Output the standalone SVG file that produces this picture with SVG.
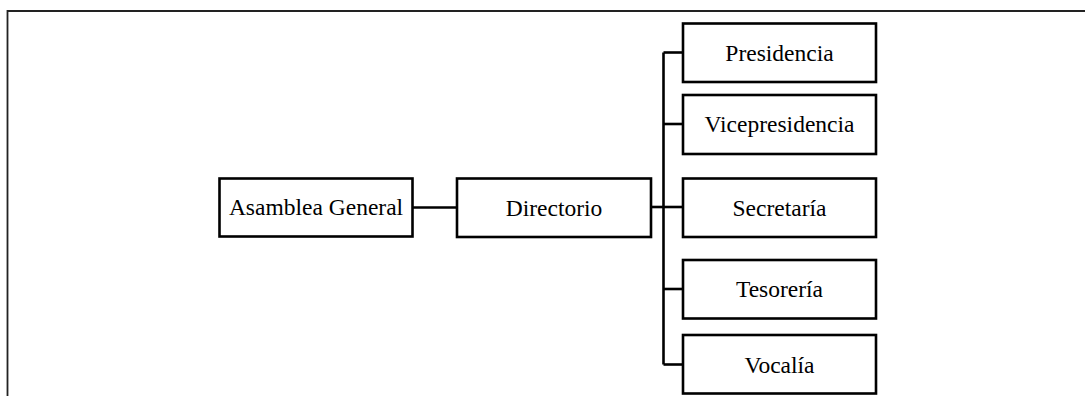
<svg xmlns="http://www.w3.org/2000/svg" width="1085" height="396" viewBox="0 0 1085 396">
<style>
.box{fill:#fff;stroke:#000;stroke-width:2.6}
.lbl{font-family:"Liberation Serif","Times New Roman",serif;font-size:23.5px;fill:#000;text-anchor:middle}
.con{fill:none;stroke:#000;stroke-width:2.6}
.frame{fill:none;stroke:#222;stroke-width:1.8}
</style>
<path class="frame" d="M7.5 396 V11 H1085"/>
<g id="connectors">
<path class="con" d="M412 207.5 H457"/>
<path class="con" d="M651 207 H683"/>
<path class="con" d="M663.5 52.5 V364.5"/>
<path class="con" d="M663.5 52.5 H683"/>
<path class="con" d="M663.5 124 H683"/>
<path class="con" d="M663.5 289 H683"/>
<path class="con" d="M663.5 364.5 H683"/>
</g>
<g id="asamblea"><rect class="box" x="219.5" y="178.5" width="193" height="58"/><text class="lbl" x="316" y="215">Asamblea General</text></g>
<g id="directorio"><rect class="box" x="457" y="178.5" width="194" height="58.5"/><text class="lbl" x="554" y="215.5">Directorio</text></g>
<g id="presidencia"><rect class="box" x="683" y="23.5" width="193" height="58.5"/><text class="lbl" x="779.5" y="61">Presidencia</text></g>
<g id="vicepresidencia"><rect class="box" x="683" y="95" width="193" height="59"/><text class="lbl" x="779.5" y="132">Vicepresidencia</text></g>
<g id="secretaria"><rect class="box" x="683" y="178.5" width="193" height="58.5"/><text class="lbl" x="779.5" y="215.5">Secretaría</text></g>
<g id="tesoreria"><rect class="box" x="683" y="260" width="193" height="58.5"/><text class="lbl" x="779.5" y="297">Tesorería</text></g>
<g id="vocalia"><rect class="box" x="683" y="335" width="193" height="58.5"/><text class="lbl" x="779.5" y="373">Vocalía</text></g>
</svg>
